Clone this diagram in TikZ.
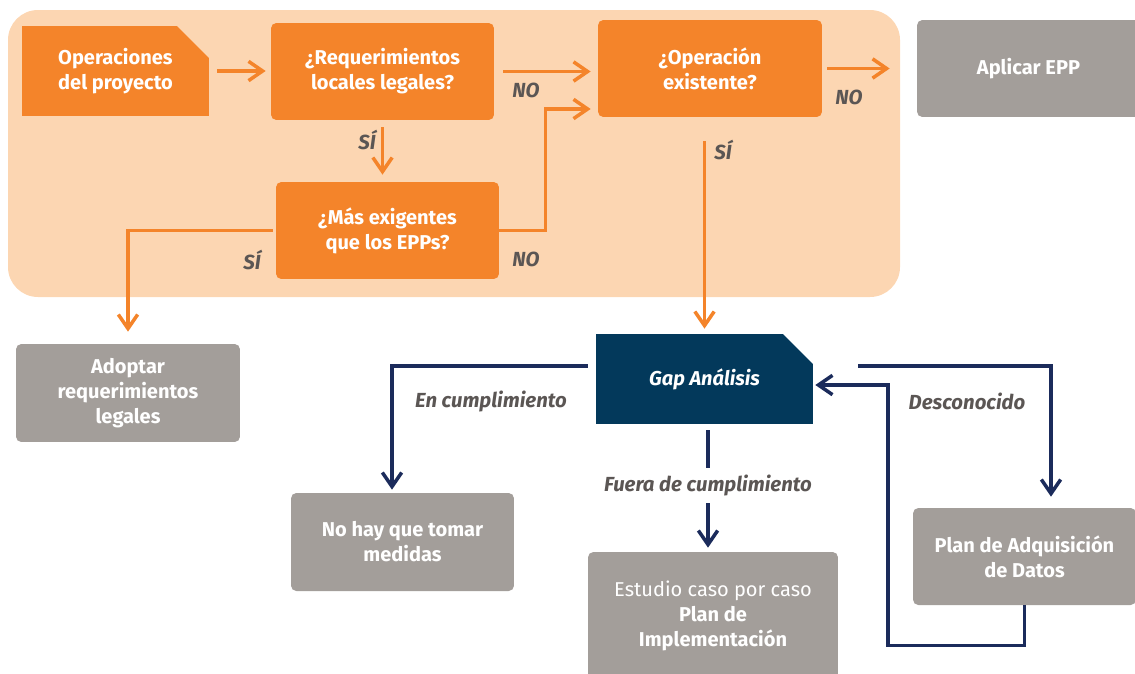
\documentclass[tikz,border=0pt]{standalone}
\usepackage{fontspec}
\setmainfont{Fira Sans}
\usetikzlibrary{arrows.meta,positioning,shapes.misc}
\definecolor{naranja}{HTML}{F4842A}
\definecolor{durazno}{HTML}{FCD6B2}
\definecolor{gris}{HTML}{A39E9A}
\definecolor{azulgap}{HTML}{03395B}
\definecolor{marino}{HTML}{1B2B5B}
\definecolor{rotulo}{HTML}{5B5654}
\tikzset{
    >={Straight Barb[length=8pt,width=11pt]},
    caja/.style={
           rectangle, rounded corners=3pt,
           minimum width=4.46cm, minimum height=1.94cm,
           inner sep=2pt, align=center, text=white,
           font=\fontsize{11.4}{14.2}\selectfont\bfseries},
    pregunta/.style={caja, fill=naranja},
    salida/.style={caja, fill=gris},
    hoja/.style={
           caja, chamfered rectangle,
           chamfered rectangle corners=north east,
           chamfered rectangle xsep=0.32cm,
           chamfered rectangle ysep=0.32cm,
           rounded corners=0pt},
    flechan/.style={->, draw=naranja, line width=2pt},
    flechaa/.style={->, draw=marino, line width=2pt},
    etiqueta/.style={
           text=rotulo, inner sep=1pt,
           font=\fontsize{11.6}{13}\selectfont\bfseries\itshape}
}
\begin{document}
\begin{tikzpicture}[x=0.02cm, y=-0.02cm]
          \useasboundingbox (0,0) rectangle (1135,673);
          \fill[durazno, rounded corners=0.6cm] (8,10) rectangle (900,297);
          \node[hoja, fill=naranja, align=left, minimum width=3.74cm, minimum height=1.8cm](ops) at (115.5,71) {Operaciones\\del proyecto};
          \node[pregunta](req) at (382.5,71.5) {¿Requerimientos\\locales legales?};
          \node[pregunta](exig) at (387.5,230.5) {¿Más exigentes\\que los EPPs?};
          \node[pregunta, minimum width=4.48cm](oper) at (710,68.5) {¿Operación\\existente?};
          \node[salida](aplicar) at (1028.5,68.5) {Aplicar EPP};
          \node[salida, minimum width=4.48cm, minimum height=1.96cm](adoptar) at (128,393) {Adoptar\\requerimientos\\legales};
          \node[hoja, fill=azulgap, minimum width=4.34cm, minimum height=1.8cm, font=\fontsize{11.4}{14.2}\selectfont\bfseries\itshape](gap) at (704.5,379) {Gap Análisis};
          \node[salida, minimum height=1.96cm](nohay) at (402.5,542) {No hay que tomar\\medidas};
          \node[salida, minimum width=5cm, minimum height=2.56cm](estudio) at (713,616) {{\mdseries Estudio caso por caso}\\Plan de\\Implementación};
          \node[salida](plan) at (1024.5,556.5) {Plan de Adquisición\\de Datos};
          \coordinate (vuelta) at (888,385);
          \node[etiqueta](no1) at (526,90) {NO};
          \node[etiqueta](no2) at (526,259) {NO};
          \node[etiqueta](no3) at (849,97) {NO};
          \node[etiqueta](si1) at (367,140) {SÍ};
          \node[etiqueta](si2) at (252,260) {SÍ};
          \node[etiqueta](si3) at (723,150) {SÍ};
          \node[etiqueta](cumple) at (491,402) {En cumplimiento};
          \node[etiqueta](desc) at (967,401) {Desconocido};
          \draw[flechan, shorten <=0.16cm, shorten >=0.1cm] (ops.east) -- (ops.east -| req.west);
          \draw[flechan, shorten <=0.18cm, shorten >=0.14cm] (req.east) -- (req.east -| oper.west);
          \draw[flechan, shorten <=0.14cm, shorten >=0.14cm] (req.south) -- (req.south |- exig.north);
          \draw[flechan, shorten >=0.14cm] (exig.east) -- ++(46,0) |- ([yshift=-0.81cm]oper.west);
          \draw[flechan, shorten <=0.06cm, shorten >=0.24cm] (exig.west) -| (adoptar.north);
          \draw[flechan, shorten <=0.1cm, shorten >=0.54cm] (oper.east) -- (oper.east -| aplicar.west);
          \draw[flechan, shorten <=0.48cm, shorten >=0.1cm] (oper.south -| gap.north) -- (gap.north);
          \draw[flechaa, shorten <=0.16cm, shorten >=0.06cm] ([yshift=0.26cm]gap.west) -| ([xshift=-0.21cm]nohay.north);
          \draw[flechaa, shorten <=0.12cm, shorten >=0.08cm] ([xshift=0.07cm]gap.south) -- ([xshift=0.07cm]gap.south |- estudio.north)
               node[etiqueta, fill=white, inner ysep=4pt, pos=0.48](fuera) {Fuera de cumplimiento};
          \draw[flechaa, shorten <=0.9cm, shorten >=0.22cm] ([yshift=0.26cm]gap.east) -| ([xshift=0.53cm]plan.north);
          \draw[flechaa, shorten >=0.04cm] (plan.south) -- ++(0,40) -| (vuelta) -- (vuelta -| gap.east);
         \end{tikzpicture}
\end{document}
